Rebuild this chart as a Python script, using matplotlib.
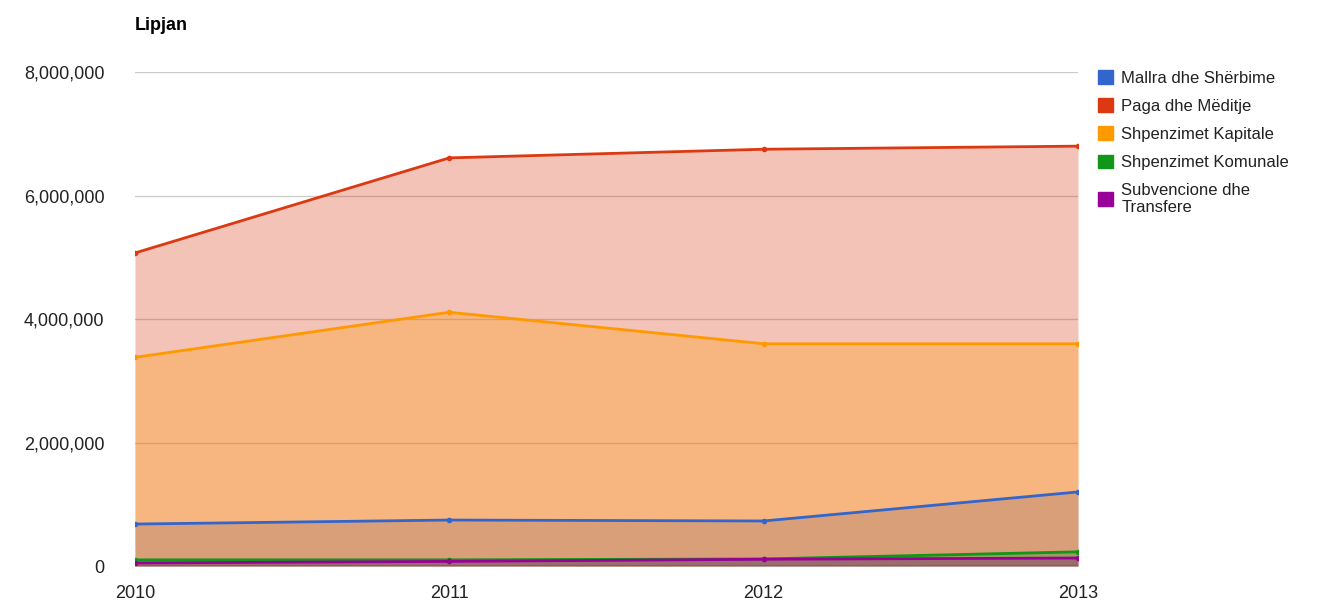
import matplotlib.pyplot as plt
from matplotlib.ticker import FuncFormatter
from matplotlib.patches import Patch

# Data
years = ["2010", "2011", "2012", "2013"]
series_names = ["Mallra dhe Shërbime", "Paga dhe Mëditje", "Shpenzimet Kapitale",
                "Shpenzimet Komunale", "Subvencione dhe\nTransfere"]
mallra = [680000, 745000, 730000, 1200000]
paga = [5070000, 6610000, 6750000, 6800000]
kapitale = [3380000, 4110000, 3600000, 3600000]
komunale = [100000, 100000, 115000, 230000]
subvencione = [50000, 75000, 110000, 130000]
colors = ["#3366cc", "#dc3912", "#ff9900", "#109618", "#990099"]


def main():
    plt.rcParams['font.family'] = ['Liberation Sans', 'DejaVu Sans']
    fig = plt.figure(figsize=(13.18, 6.08), dpi=100)
    ax = fig.add_axes([0.1024, 0.069, 0.7155, 0.8125])

    x = list(range(len(years)))
    all_series = [mallra, paga, kapitale, komunale, subvencione]
    for values, color in zip(all_series, colors):
        ax.fill_between(x, 0, values, color=color, alpha=0.3, linewidth=0, zorder=2)
    for values, color in zip(all_series, colors):
        ax.plot(x, values, color=color, linewidth=2, marker='o', markersize=3, zorder=3)

    ax.set_xlim(0, 3)
    ax.set_ylim(0, 8000000)
    ax.set_yticks([0, 2000000, 4000000, 6000000, 8000000])
    ax.yaxis.set_major_formatter(FuncFormatter(lambda v, p: f"{int(v):,}"))
    ax.set_xticks(x)
    ax.set_xticklabels(years)
    ax.grid(axis='y', color='#cccccc', linewidth=1, zorder=0)
    for s in ax.spines.values():
        s.set_visible(False)
    ax.axhline(0, color='#333333', linewidth=1, zorder=4)
    ax.tick_params(length=0, labelsize=13, colors='#222222')
    ax.tick_params(axis='y', pad=22)
    ax.tick_params(axis='x', pad=14)

    fig.text(135 / 1318, 1 - 25 / 608, "Lipjan", fontsize=13, fontweight='bold',
             va='center', ha='left', color='#000000')

    handles = [Patch(facecolor=c, edgecolor=c) for c in colors]
    fig.legend(handles, series_names, loc='upper left',
               bbox_to_anchor=(1083 / 1318, 1 - 55 / 608), frameon=False,
               fontsize=12, handlelength=0.9, handleheight=0.9, handletextpad=0.5,
               labelspacing=0.75, labelcolor='#222222')

    plt.savefig("out.png", dpi=100)


if __name__ == '__main__':
    main()
